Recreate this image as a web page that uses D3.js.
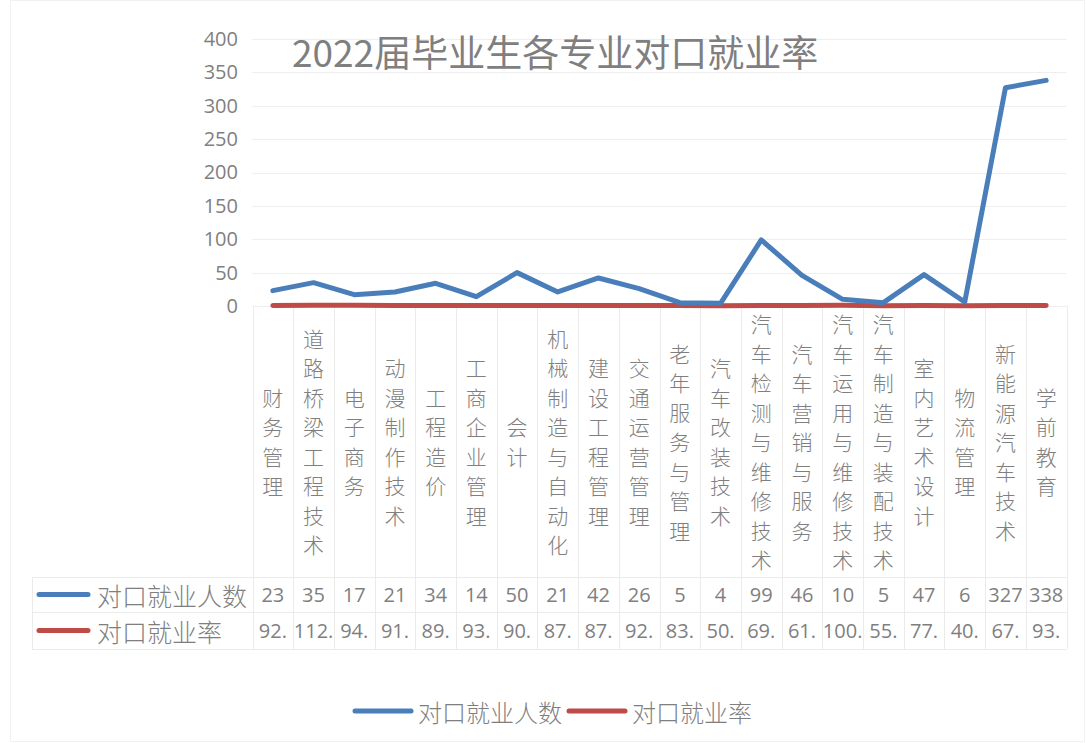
<!DOCTYPE html>
<html>
<head>
<meta charset="utf-8">
<script src="https://cdn.jsdelivr.net/npm/d3@7"></script>
<style>
  body { margin: 0; background: #fff; }
  text { font-family: "Noto Sans CJK SC", "Open Sans", sans-serif; fill: #7f7f7f; }
</style>
</head>
<body>
<svg id="chart" width="1086" height="743"></svg>
<script>
var categories = ['财务管理', '道路桥梁工程技术', '电子商务', '动漫制作技术', '工程造价', '工商企业管理', '会计',
    '机械制造与自动化', '建设工程管理', '交通运营管理', '老年服务与管理', '汽车改装技术', '汽车检测与维修技术',
    '汽车营销与服务', '汽车运用与维修技术', '汽车制造与装配技术', '室内艺术设计', '物流管理', '新能源汽车技术', '学前教育'];
var counts = [23, 35, 17, 21, 34, 14, 50, 21, 42, 26, 5, 4, 99, 46, 10, 5, 47, 6, 327, 338];
// rate in percent, only the integer part is visible in the table
var rates = [92, 112, 94, 91, 89, 93, 90, 87, 87, 92, 83, 50, 69, 61, 100, 55, 77, 40, 67, 93];
var yTicks = [0, 50, 100, 150, 200, 250, 300, 350, 400];
var seriesNames = ['对口就业人数', '对口就业率'];
var colors = ['#4a7ebb', '#be4b48'];

var svg = d3.select('#chart');

var plotLeft = 252.5, plotRight = 1066.5, plotTop = 39, plotBottom = 306;
var tableTop = 577, rowH = 35;

var x = d3.scaleBand().domain(categories).range([plotLeft, plotRight]);
var y = d3.scaleLinear().domain([0, 400]).range([plotBottom, plotTop]);

// outer frame
svg.append('rect')
    .attr('x', 10.5).attr('y', 0.5).attr('width', 1074).attr('height', 741)
    .style('fill', 'none').style('stroke', '#f2f2f2');

// gridlines
svg.append('g').selectAll('line')
    .data(yTicks)
    .enter().append('line')
    .attr('x1', plotLeft).attr('x2', plotRight)
    .attr('y1', function(d) { return Math.round(y(d)) + 0.5; })
    .attr('y2', function(d) { return Math.round(y(d)) + 0.5; })
    .style('stroke', '#eeeeee');

// y axis labels
var yAxis = d3.axisLeft(y).tickValues(yTicks).tickSize(0).tickPadding(0);
var ya = svg.append('g').attr('transform', 'translate(238,0)').call(yAxis);
ya.select('.domain').remove();
ya.selectAll('text')
    .style('font-family', '"Open Sans", sans-serif')
    .style('font-size', '20px')
    .style('fill', '#7f7f7f');

// title
svg.append('text')
    .attr('x', 292).attr('y', 67)
    .style('font-size', '37px')
    .text('2022届毕业生各专业对口就业率');

// table lines
var grid = svg.append('g').style('stroke', '#ebebeb').style('fill', 'none');
var bounds = categories.map(function(c) { return x(c); }).concat([plotRight]);
grid.selectAll('.v')
    .data(bounds)
    .enter().append('line')
    .attr('x1', function(d) { return Math.round(d) + 0.5; })
    .attr('x2', function(d) { return Math.round(d) + 0.5; })
    .attr('y1', plotBottom).attr('y2', tableTop + 2 * rowH + 2);
[tableTop, tableTop + rowH, tableTop + 2 * rowH + 2].forEach(function(yy) {
    grid.append('line').attr('x1', 32).attr('x2', plotRight)
        .attr('y1', yy + 0.5).attr('y2', yy + 0.5);
});
grid.append('line').attr('x1', 32.5).attr('x2', 32.5)
    .attr('y1', tableTop).attr('y2', tableTop + 2 * rowH + 2);

// category labels, stacked vertically
var catMid = 441, charH = 29.5;
var cats = svg.append('g');
categories.forEach(function(c) {
    var chars = c.split('');
    var start = catMid - (chars.length - 1) * charH / 2;
    cats.selectAll(null)
        .data(chars)
        .enter().append('text')
        .attr('x', x(c) + x.bandwidth() / 2)
        .attr('y', function(d, i) { return start + i * charH; })
        .attr('text-anchor', 'middle')
        .attr('dominant-baseline', 'central')
        .style('font-size', '21px')
        .style('font-weight', 300)
        .text(function(d) { return d; });
});

// lines
var line = d3.line()
    .x(function(d, i) { return x(categories[i]) + x.bandwidth() / 2; })
    .y(function(d) { return y(d); });

svg.append('path')
    .datum(rates.map(function(r) { return r / 100; }))
    .attr('d', line)
    .style('fill', 'none').style('stroke', colors[1])
    .style('stroke-width', 5).style('stroke-linejoin', 'round').style('stroke-linecap', 'round');

svg.append('path')
    .datum(counts)
    .attr('d', line)
    .style('fill', 'none').style('stroke', colors[0])
    .style('stroke-width', 5).style('stroke-linejoin', 'round').style('stroke-linecap', 'round');

// data table rows
var rows = [counts, rates];
rows.forEach(function(vals, r) {
    var cy = tableTop + rowH * r + rowH / 2 + (r === 1 ? 1 : 0);
    svg.append('line')
        .attr('x1', 39).attr('x2', 88).attr('y1', cy).attr('y2', cy)
        .style('stroke', colors[r]).style('stroke-width', 5).style('stroke-linecap', 'round');
    svg.append('text')
        .attr('x', 97).attr('y', cy)
        .attr('dominant-baseline', 'central')
        .style('font-size', '25px')
        .style('font-weight', 300)
        .text(seriesNames[r]);
    svg.append('g').selectAll('text')
        .data(vals)
        .enter().append('text')
        .attr('x', function(d, i) { return x(categories[i]) + x.bandwidth() / 2; })
        .attr('y', cy)
        .attr('text-anchor', 'middle')
        .attr('dominant-baseline', 'central')
        .style('font-family', '"Open Sans", sans-serif')
        .style('font-size', '20px')
        .text(function(d) { return r === 0 ? d : d + '.'; });
});

// bottom legend
var legendY = 711;
var lg = svg.append('g');
[[355, 418], [569, 632]].forEach(function(p, i) {
    lg.append('line')
        .attr('x1', p[0]).attr('x2', p[0] + 56).attr('y1', legendY).attr('y2', legendY)
        .style('stroke', colors[i]).style('stroke-width', 5).style('stroke-linecap', 'round');
    lg.append('text')
        .attr('x', p[1]).attr('y', legendY)
        .attr('dominant-baseline', 'central')
        .style('font-size', '24px')
        .style('font-weight', 300)
        .text(seriesNames[i]);
});
</script>
</body>
</html>
